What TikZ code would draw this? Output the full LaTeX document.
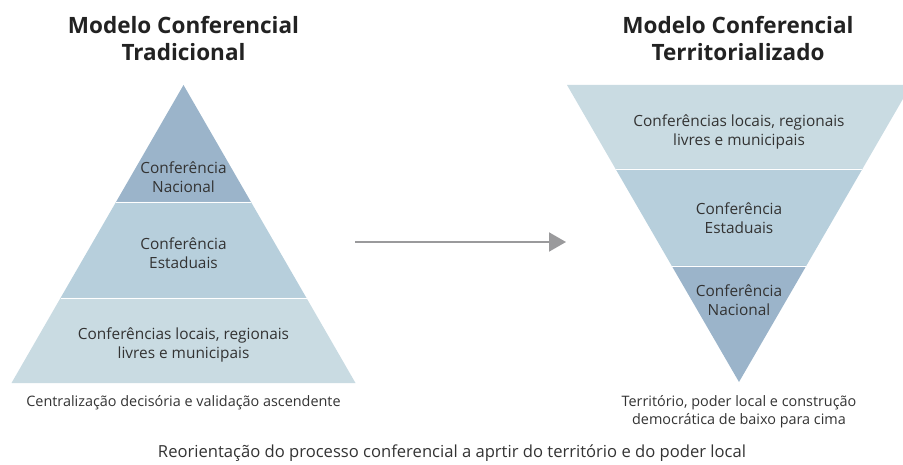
\documentclass[tikz,border=0pt]{standalone}
\usepackage{fontspec}
\setmainfont{Open Sans}
\usetikzlibrary{arrows.meta}
\definecolor{lvA}{HTML}{9BB4CA}
\definecolor{lvB}{HTML}{B7CFDC}
\definecolor{lvC}{HTML}{C9DBE2}
\definecolor{txt}{HTML}{333333}
\definecolor{ttl}{HTML}{222222}
\definecolor{arr}{HTML}{9A9A9C}
\tikzset{
  lbl/.style={text=txt, font=\fontsize{15.4}{19}\selectfont, align=center, inner sep=0pt},
  captxt/.style={text=txt, font=\fontsize{14.4}{18}\selectfont, align=center, inner sep=0pt},
  ttlstyle/.style={text=ttl, font=\fontsize{22.5}{27}\selectfont\bfseries, align=center, inner sep=0pt},
  sep/.style={draw=white, line width=0.8pt},
}
\begin{document}
\begin{tikzpicture}[x=1pt,y=-1pt]
\useasboundingbox (0,0) rectangle (903,465);
% left pyramid
\fill[lvA] (183.5,85) -- (251,202) -- (116,202) -- cycle;
\fill[lvB] (116,202) -- (251,202) -- (306.5,298) -- (60.5,298) -- cycle;
\fill[lvC] (60.5,298) -- (306.5,298) -- (355.5,383) -- (11.5,383) -- cycle;
\draw[sep] (116,202) -- (251,202);
\draw[sep] (60.5,298) -- (306.5,298);
% right inverted pyramid
\begin{scope}
\clip (0,0) rectangle (903,465);
\fill[lvC] (567,85) -- (911,85) -- (862.4,169) -- (615.6,169) -- cycle;
\end{scope}
\fill[lvB] (615.6,169) -- (862.4,169) -- (806.2,266) -- (671.8,266) -- cycle;
\fill[lvA] (671.8,266) -- (806.2,266) -- (739,382) -- cycle;
\draw[sep] (615.6,169) -- (862.4,169);
\draw[sep] (671.8,266) -- (806.2,266);
% titles
\node[ttlstyle] (t1) at (183.5,38.5) {Modelo Conferencial\\Tradicional};
\node[ttlstyle] (t2) at (738,38.5) {Modelo Conferencial\\Territorializado};
% left labels
\node[lbl] (l1) at (183.5,177.5) {Conferência\\Nacional};
\node[lbl] (l2) at (183.5,253.5) {Conferência\\Estaduais};
\node[lbl] (l3) at (183.5,345) {Conferências locais, regionais\\livres e municipais};
\node[captxt] (lc) at (183.5,403) {Centralização decisória e validação ascendente};
% right labels
\node[lbl] (r1) at (739,131.5) {Conferências locais, regionais\\livres e municipais};
\node[lbl] (r2) at (739,218) {Conferência\\Estaduais};
\node[lbl] (r3) at (739,300) {Conferência\\Nacional};
\node[captxt] (rc) at (739,412) {Território, poder local e construção\\democrática de baixo para cima};
% footer
\node[lbl, font=\fontsize{16.6}{20}\selectfont] (ft) at (452,453) {Reorientação do processo conferencial a aprtir do território e do poder local};
% arrow
\coordinate (as) at (355,242);
\coordinate (ae) at (566,242);
\draw[arr, line width=2pt, -{Triangle[length=17pt,width=19pt]}] (as) -- (ae);
\end{tikzpicture}
\end{document}
